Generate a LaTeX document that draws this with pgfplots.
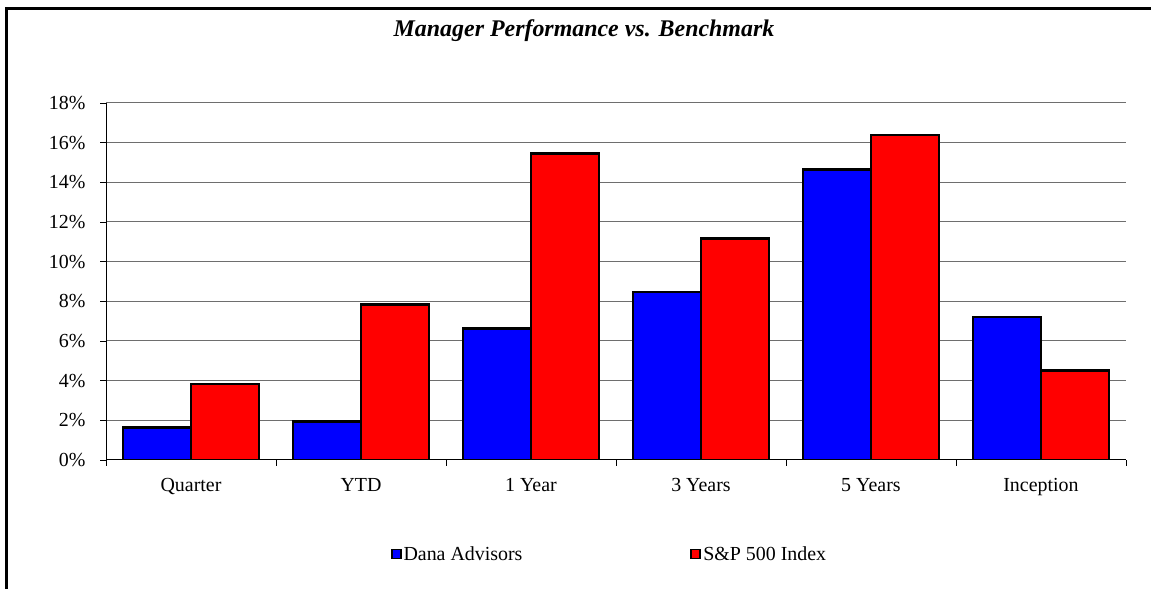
\documentclass[border=0pt]{standalone}
\usepackage{fontspec}
\setmainfont{Liberation Serif}
\usepackage{pgfplots}
\pgfplotsset{compat=1.18}
\definecolor{danablue}{RGB}{0,0,255}
\definecolor{spred}{RGB}{255,0,0}
\definecolor{gridgray}{RGB}{110,110,110}
\begin{document}
\begin{tikzpicture}[x=1bp,y=1bp]
\useasboundingbox (0,0) rectangle (1151,589);
\coordinate (A) at (106,129);
\begin{scope}
\clip (0,0) rectangle (1151,589);
\draw[line width=3bp] (6,-5) -- (6,580.5) -- (1160,580.5);
\end{scope}
\node[anchor=base, inner sep=0pt, font=\fontsize{24}{28}\selectfont\bfseries\itshape] at (584,552) {Manager Performance vs. Benchmark};
\begin{axis}[
  at={(A)}, anchor=south west,
  scale only axis, width=1020bp, height=357bp,
  xmin=-0.5, xmax=5.5, ymin=0, ymax=18,
  ybar=0pt, bar width=68bp,
  axis lines*=left,
  x axis line style={-, line width=1bp},
  y axis line style={-, line width=0.8bp},
  tick align=outside,
  xtick={0,...,5},
  xticklabels={Quarter,YTD,1 Year,3 Years,5 Years,Inception},
  major x tick style={draw=none},
  minor xtick={-0.5,0.5,...,5.5},
  minor tick length=6bp,
  major tick length=6bp,
  ytick={0,2,...,18},
  yticklabels={0\%,2\%,4\%,6\%,8\%,10\%,12\%,14\%,16\%,18\%},
  tick style={black, line width=0.8bp},
  ymajorgrids,
  grid style={gridgray, line width=1bp},
  ticklabel style={font=\fontsize{20}{24}\selectfont, text=black},
  xticklabel style={yshift=-9bp},
  yticklabel style={xshift=-11bp},
  legend style={at={(0.4936,-0.2633)}, anchor=center, draw=none, fill=none,
    legend columns=2, font=\fontsize{20}{24}\selectfont,
    /tikz/every even column/.append style={column sep=166bp}},
  every axis plot post/.append style={
    legend image code/.code={\draw[##1, line width=1.8bp] (0bp,-4.5bp) rectangle (9bp,4.5bp);}},
]
\addplot[fill=danablue, draw=black, line width=2.6bp] coordinates {
  (0,1.65) (1,1.94) (2,6.62) (3,8.47) (4,14.65) (5,7.21)};
\addlegendentry{Dana Advisors}
\addplot[fill=spred, draw=black, line width=2.6bp] coordinates {
  (0,3.84) (1,7.83) (2,15.46) (3,11.16) (4,16.38) (5,4.50)};
\addlegendentry{S\&P 500 Index}
\end{axis}
\end{tikzpicture}
\end{document}
